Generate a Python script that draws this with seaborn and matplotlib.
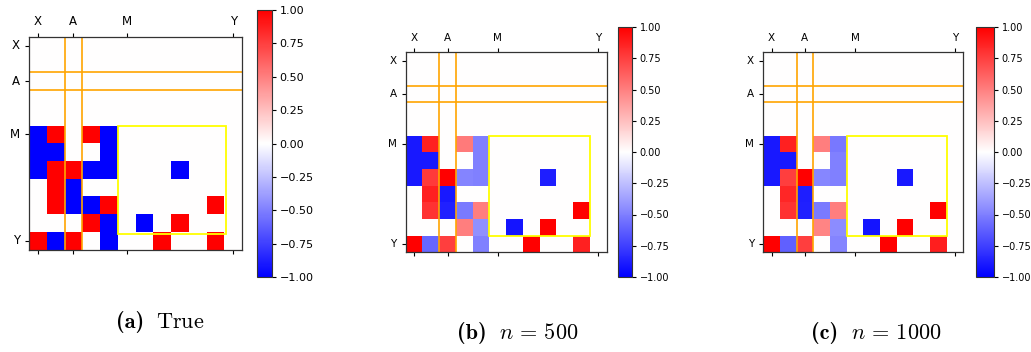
import os
import numpy as np
import matplotlib
matplotlib.use("Agg")
import matplotlib.pyplot as plt
from matplotlib.patches import Rectangle
from matplotlib.font_manager import FontProperties
from matplotlib.offsetbox import TextArea, HPacker, AnnotationBbox
import seaborn as sns

plt.rcParams['mathtext.fontset'] = 'cm'

# ---- data ----
tick_labels = ["X", "A", "M", "Y"]
tick_index = [0, 2, 5, 11]
zero_row = [0] * 12

true_rows = [
    zero_row, zero_row, zero_row, zero_row, zero_row,
    [-1, 1, 0, 1, -1, 0, 0, 0, 0, 0, 0, 0],
    [-1, -1, 0, 0, -1, 0, 0, 0, 0, 0, 0, 0],
    [-1, 1, 1, -1, -1, 0, 0, 0, -1, 0, 0, 0],
    [0, 1, -1, 0, 0, 0, 0, 0, 0, 0, 0, 0],
    [0, 1, -1, -1, 1, 0, 0, 0, 0, 0, 1, 0],
    [0, 0, 0, 1, -1, 0, -1, 0, 1, 0, 0, 0],
    [1, -1, 1, 0, -1, 0, 0, 1, 0, 0, 1, 0],
]

n500_rows = [
    zero_row, zero_row, zero_row, zero_row, zero_row,
    [-0.9, 0.87, 0, 0.52, -0.5, 0, 0, 0, 0, 0, 0, 0],
    [-0.9, -0.9, 0, 0, -0.5, 0, 0, 0, 0, 0, 0, 0],
    [-0.9, 0.77, 1.0, -0.48, -0.5, 0, 0, 0, -0.88, 0, 0, 0],
    [0, 0.87, -0.9, 0, 0, 0, 0, 0, 0, 0, 0, 0],
    [0, 0.8, -0.87, -0.52, 0.5, 0, 0, 0, 0, 0, 1.0, 0],
    [0, 0, 0, 0.5, -0.43, 0, -0.92, 0, 1.0, 0, 0, 0],
    [1.0, -0.6, 0.75, 0, -0.5, 0, 0, 1.0, 0, 0, 0.87, 0],
]

n1000_rows = [
    zero_row, zero_row, zero_row, zero_row, zero_row,
    [-0.9, 0.87, 0, 0.5, -0.53, 0, 0, 0, 0, 0, 0, 0],
    [-0.9, -0.9, 0, 0, -0.5, 0, 0, 0, 0, 0, 0, 0],
    [-0.9, 0.75, 1.0, -0.47, -0.5, 0, 0, 0, -0.9, 0, 0, 0],
    [0, 0.85, -0.88, 0, 0, 0, 0, 0, 0, 0, 0, 0],
    [0, 0.8, -0.87, -0.52, 0.5, 0, 0, 0, 0, 0, 1.0, 0],
    [0, 0, 0, 0.48, -0.45, 0, -0.92, 0, 1.0, 0, 0, 0],
    [1.0, -0.62, 0.75, 0, -0.48, 0, 0, 1.0, 0, 0, 0.88, 0],
]

caption_tags = ["(a)", "(b)", "(c)"]
caption_texts = [r"$\mathrm{True}$", r"$n\,=\,500$", r"$n\,=\,1000$"]
cbar_ticks = [-1.0, -0.75, -0.5, -0.25, 0.0, 0.25, 0.5, 0.75, 1.0]

# ---- layout (pixel boxes: x0, y0, x1, y1 from top-left) ----
W, H = 1031, 352
def box(x0, y0, x1, y1):
    return [x0 / W, 1 - y1 / H, (x1 - x0) / W, (y1 - y0) / H]

panels = [
    dict(data=true_rows, ax=box(29, 37, 242, 249.5), cax=box(257, 10, 272, 277),
         fs=8.5, cfs=8.0, rect_end=11.1, cap=(160, 322)),
    dict(data=n500_rows, ax=box(405.7, 52.3, 606.7, 252.3), cax=box(618, 27, 632, 277),
         fs=7.5, cfs=7.0, rect_end=11.0, cap=(518, 333)),
    dict(data=n1000_rows, ax=box(763.3, 52.3, 963.3, 252.3), cax=box(976, 27, 994, 277),
         fs=7.5, cfs=7.0, rect_end=11.0, cap=(876, 333)),
]

bold_path = os.path.join(matplotlib.get_data_path(), "fonts", "ttf", "cmb10.ttf")
bold_fp = FontProperties(fname=bold_path, size=16) if os.path.exists(bold_path) else FontProperties(family="DejaVu Serif", weight="bold", size=15)

fig = plt.figure(figsize=(W / 100, H / 100), dpi=100)

for p, tag, txt in zip(panels, caption_tags, caption_texts):
    ax = fig.add_axes(p["ax"])
    cax = fig.add_axes(p["cax"])
    mat = np.array(p["data"], dtype=float)
    sns.heatmap(mat, cmap="bwr", vmin=-1, vmax=1, ax=ax, cbar_ax=cax,
                cbar_kws={"ticks": cbar_ticks}, square=False)
    for s in ax.spines.values():
        s.set_visible(True)
        s.set_linewidth(0.9)
        s.set_color("#333333")
    cb = ax.collections[0].colorbar
    cb.outline.set_linewidth(0.8)
    cb.outline.set_edgecolor("#333333")
    cax.tick_params(labelsize=p["cfs"], length=3, width=0.8, pad=2.5)

    pos = [i + 0.5 for i in tick_index]
    ax.set_xticks(pos)
    ax.set_xticklabels(tick_labels)
    ax.set_yticks(pos)
    ax.set_yticklabels(tick_labels, rotation=0)
    ax.tick_params(axis="x", top=True, labeltop=True, bottom=True, labelbottom=False,
                   labelsize=p["fs"], length=3, width=0.8, rotation=0)
    ax.tick_params(axis="y", left=True, labelsize=p["fs"], length=3, width=0.8)

    for v in (2, 3):
        ax.axvline(v, color="orange", lw=1.2)
        ax.axhline(v, color="orange", lw=1.2)
    e = p["rect_end"]
    ax.add_patch(Rectangle((5, 5), e - 5, e - 5, fill=False, edgecolor="yellow", lw=1.3))

    ta = TextArea(tag, textprops=dict(fontproperties=bold_fp))
    tb = TextArea(txt, textprops=dict(fontsize=16))
    pack = HPacker(children=[ta, tb], align="baseline", pad=0, sep=9)
    ab = AnnotationBbox(pack, (p["cap"][0] / W, 1 - p["cap"][1] / H),
                        xycoords="figure fraction", frameon=False, box_alignment=(0.5, 0.5))
    fig.add_artist(ab)

fig.savefig("out.png", dpi=100)
